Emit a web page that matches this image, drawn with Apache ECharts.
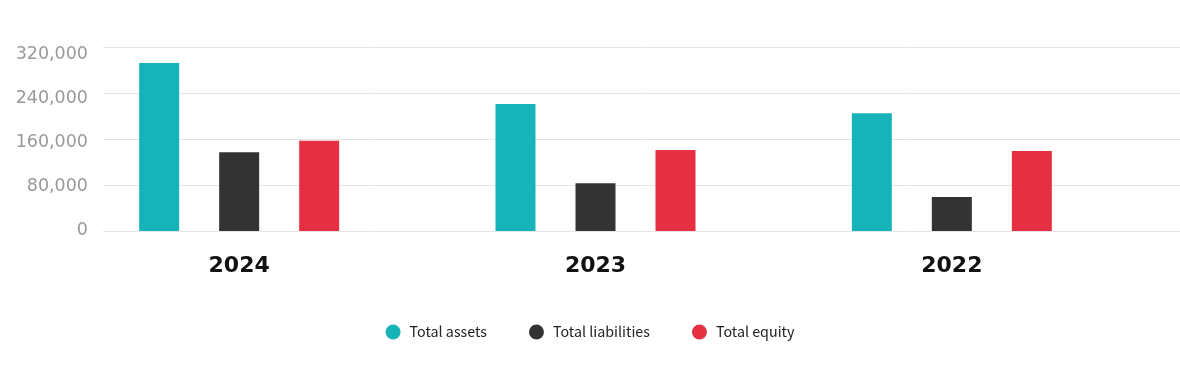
<!DOCTYPE html>
<html>
<head>
<meta charset="utf-8">
<script src="https://cdn.jsdelivr.net/npm/echarts@6/dist/echarts.min.js"></script>
<style>
html,body{margin:0;padding:0;background:#fff;}
#chart{width:1180px;height:374px;}
</style>
</head>
<body>
<div id="chart"></div>
<script>
const categories = ['2024', '2023', '2022'];
const totalAssets = [292000, 221000, 205000];
const totalLiabilities = [137000, 83000, 59000];
const totalEquity = [157000, 141000, 139000];
const yMin = 0, yMax = 320000, yInterval = 80000;

const chart = echarts.init(document.getElementById('chart'), null, {renderer: 'canvas'});
const barCommon = {type: 'bar', xAxisIndex: 2, yAxisIndex: 2, barWidth: 40, barGap: '100%'};
chart.setOption({
  animation: false,
  backgroundColor: '#ffffff',
  grid: [
    {left: 103, right: 0, top: 47, height: 184},
    {left: 103, right: 0, top: 54.5, height: 175.5},
    {left: 61, width: 1069, top: 47, height: 184}
  ],
  xAxis: [
    {gridIndex: 0, type: 'category', data: categories, show: false},
    {gridIndex: 1, type: 'category', data: categories, show: false},
    {gridIndex: 2, type: 'category', data: categories,
      axisLine: {show: false}, axisTick: {show: false},
      axisLabel: {margin: 24, fontFamily: 'DejaVu Sans', fontWeight: 'bold', fontSize: 22, color: '#111111'}}
  ],
  yAxis: [
    {gridIndex: 0, type: 'value', min: yMin, max: yMax, interval: yInterval,
      axisLabel: {show: false}, axisLine: {show: false}, axisTick: {show: false},
      splitLine: {show: true, lineStyle: {color: '#e5e5e5', width: 1}}},
    {gridIndex: 1, type: 'value', min: yMin, max: yMax, interval: yInterval,
      axisLine: {show: false}, axisTick: {show: false}, splitLine: {show: false},
      axisLabel: {margin: 15, fontFamily: 'DejaVu Sans', fontSize: 17.5, color: '#999999',
        formatter: v => v.toLocaleString('en-US')}},
    {gridIndex: 2, type: 'value', min: yMin, max: yMax, interval: yInterval, show: false,
      splitLine: {show: false}}
  ],
  legend: {
    left: 'center', top: 319.5,
    icon: 'circle', itemWidth: 15, itemHeight: 15, itemGap: 42,
    textStyle: {fontFamily: 'Noto Sans CJK KR', fontSize: 14.3, color: '#222222', padding: [0, 0, 0, 4]},
    data: ['Total assets', 'Total liabilities', 'Total equity']
  },
  series: [
    Object.assign({name: 'Total assets', data: totalAssets, itemStyle: {color: '#16b3b9'}}, barCommon),
    Object.assign({name: 'Total liabilities', data: totalLiabilities, itemStyle: {color: '#333333'}}, barCommon),
    Object.assign({name: 'Total equity', data: totalEquity, itemStyle: {color: '#e53044'}}, barCommon)
  ]
});
</script>
</body>
</html>
